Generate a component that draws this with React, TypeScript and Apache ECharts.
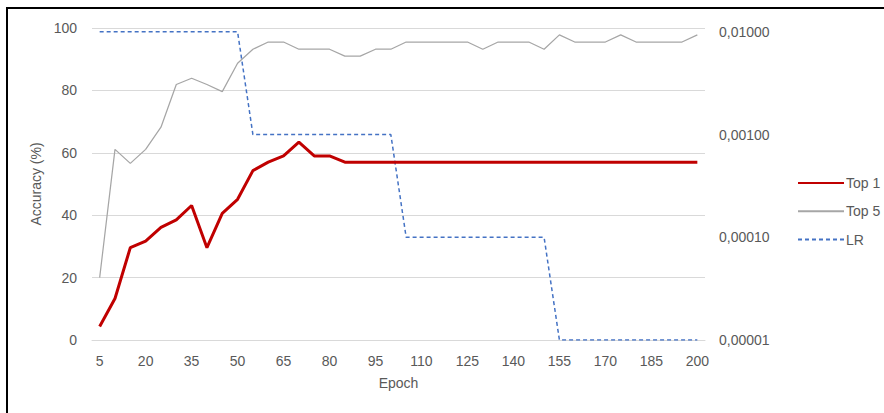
import React, { useEffect, useRef } from "react";
import * as echarts from "echarts";

const epochs: string[] = [
  "5", "10", "15", "20", "25", "30", "35", "40", "45", "50",
  "55", "60", "65", "70", "75", "80", "85", "90", "95", "100",
  "105", "110", "115", "120", "125", "130", "135", "140", "145", "150",
  "155", "160", "165", "170", "175", "180", "185", "190", "195", "200",
];

const top1: number[] = [
  4.3, 13.3, 29.6, 31.7, 36.1, 38.5, 43.1, 29.6, 40.6, 45.1,
  54.3, 57.0, 59.0, 63.4, 59.0, 59.0, 57.0, 57.0, 57.0, 57.0,
  57.0, 57.0, 57.0, 57.0, 57.0, 57.0, 57.0, 57.0, 57.0, 57.0,
  57.0, 57.0, 57.0, 57.0, 57.0, 57.0, 57.0, 57.0, 57.0, 57.0,
];

const top5: number[] = [
  20.0, 61.1, 56.6, 61.1, 68.2, 81.9, 83.9, 81.9, 79.6, 88.7,
  93.2, 95.5, 95.5, 93.2, 93.2, 93.2, 91.0, 91.0, 93.2, 93.2,
  95.5, 95.5, 95.5, 95.5, 95.5, 93.2, 95.5, 95.5, 95.5, 93.2,
  97.8, 95.5, 95.5, 95.5, 97.8, 95.5, 95.5, 95.5, 95.5, 97.8,
];

const lr: number[] = [
  0.01, 0.01, 0.01, 0.01, 0.01, 0.01, 0.01, 0.01, 0.01, 0.01,
  0.001, 0.001, 0.001, 0.001, 0.001, 0.001, 0.001, 0.001, 0.001, 0.001,
  0.0001, 0.0001, 0.0001, 0.0001, 0.0001, 0.0001, 0.0001, 0.0001, 0.0001, 0.0001,
  0.00001, 0.00001, 0.00001, 0.00001, 0.00001, 0.00001, 0.00001, 0.00001, 0.00001, 0.00001,
];

const seriesNames = ["Top 1", "Top 5", "LR"];

const FONT = "Liberation Sans";
const TXT = "#595959";

export default function App() {
  const ref = useRef<HTMLDivElement>(null);
  useEffect(() => {
    if (!ref.current) return;
    const chart = echarts.init(ref.current, null, { renderer: "svg" });
    chart.setOption({
      animation: false,
      backgroundColor: "#ffffff",
      textStyle: { fontFamily: FONT, color: TXT },
      grid: { left: 92, right: 179, top: 28, bottom: 73, containLabel: false },
      graphic: [
        {
          type: "rect",
          shape: { x: 7, y: 8, width: 900, height: 430 },
          style: { fill: "none", stroke: "#000000", lineWidth: 2 },
          silent: true,
        },
      ],
      legend: {
        orient: "vertical",
        left: 797,
        top: 176,
        padding: 0,
        itemWidth: 46,
        itemHeight: 14,
        itemGap: 14.3,
        data: seriesNames,
        itemStyle: { opacity: 0 },
        textStyle: { fontFamily: FONT, fontSize: 14, color: TXT, padding: [0, 0, 0, -3] },
      },
      xAxis: {
        type: "category",
        data: epochs,
        boundaryGap: true,
        name: "Epoch",
        nameLocation: "middle",
        nameGap: 36,
        nameTextStyle: { fontFamily: FONT, fontSize: 14, color: TXT },
        axisLine: { show: true, lineStyle: { color: "#D9D9D9", width: 1 } },
        axisTick: { show: false },
        axisLabel: { interval: 2, margin: 14, fontFamily: FONT, fontSize: 14, color: TXT },
      },
      yAxis: [
        {
          type: "value",
          min: 0,
          max: 100,
          interval: 20,
          name: "Accuracy (%)",
          nameLocation: "middle",
          nameGap: 45,
          nameTextStyle: { fontFamily: FONT, fontSize: 14, color: TXT },
          axisLine: { show: false },
          axisTick: { show: false },
          axisLabel: { margin: 15, fontFamily: FONT, fontSize: 14, color: TXT },
          splitLine: { show: true, lineStyle: { color: "#D9D9D9", width: 1 } },
        },
        {
          type: "log",
          logBase: 10,
          min: 0.00001,
          max: 0.0109,
          position: "right",
          axisLine: { show: false },
          axisTick: { show: false },
          splitLine: { show: false },
          axisLabel: {
            margin: 14,
            showMaxLabel: false,
            fontFamily: FONT,
            fontSize: 14,
            color: TXT,
            formatter: (v: number) => {
              const e = Math.log10(v);
              if (Math.abs(e - Math.round(e)) > 1e-6) return "";
              return Math.pow(10, Math.round(e)).toFixed(5).replace(".", ",");
            },
          },
        },
      ],
      series: [
        {
          name: "Top 1",
          type: "line",
          data: top1,
          yAxisIndex: 0,
          symbol: "none",
          lineStyle: { color: "#C00000", width: 3 },
          itemStyle: { color: "#C00000" },
          z: 4,
        },
        {
          name: "Top 5",
          type: "line",
          data: top5,
          yAxisIndex: 0,
          symbol: "none",
          lineStyle: { color: "#A6A6A6", width: 1.25 },
          itemStyle: { color: "#A6A6A6" },
          z: 3,
        },
        {
          name: "LR",
          type: "line",
          data: lr,
          yAxisIndex: 1,
          symbol: "none",
          lineStyle: { color: "#4472C4", width: 1.5, type: [4, 3] },
          itemStyle: { color: "#4472C4" },
          z: 2,
        },
      ],
    });
    return () => chart.dispose();
  }, []);
  return (
    <div
      ref={ref}
      style={{ position: "fixed", left: 0, top: 0, width: 884, height: 413 }}
    />
  );
}
